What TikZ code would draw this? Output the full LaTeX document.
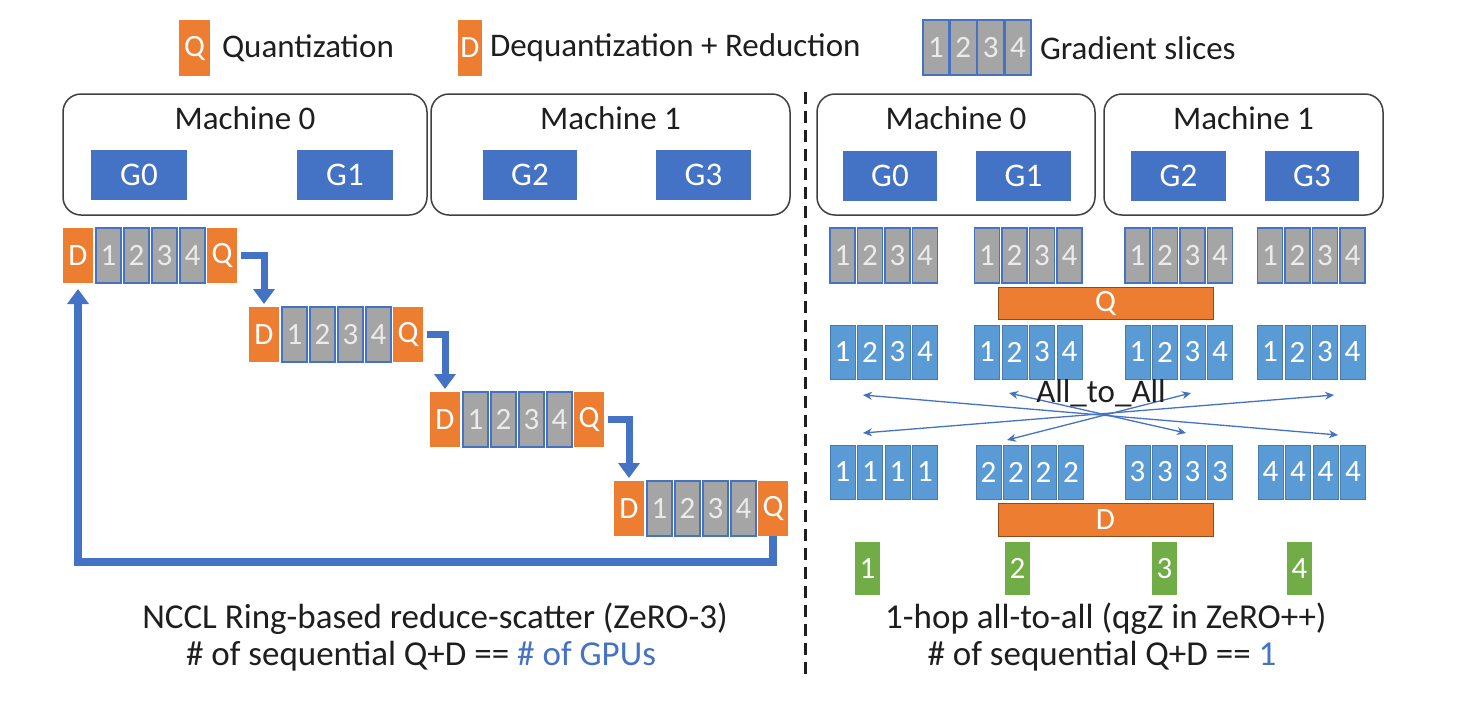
\documentclass[tikz,border=0pt]{standalone}
\usepackage{fontspec}
\setmainfont{Carlito}
\usetikzlibrary{arrows.meta}
\definecolor{qorange}{HTML}{ED7D31}
\definecolor{sgray}{HTML}{A5A5A5}
\definecolor{gblue}{HTML}{4472C4}
\definecolor{sblue}{HTML}{5B9BD5}
\definecolor{ggreen}{HTML}{70AD47}
\definecolor{txt}{HTML}{1E1E1E}
\newcommand\myfs[1]{\fontsize{#1}{#1}\selectfont}
\tikzset{
  box/.style={inner sep=0pt, outer sep=0pt, anchor=north west, text=white, font=\myfs{31}},
  orbox/.style={box, fill=qorange, minimum width=30pt, minimum height=55pt},
  grslice/.style={box, fill=sgray, draw=gblue, line width=1.2pt, minimum width=25pt, minimum height=55pt, text=white!92!black},
  blslice/.style={box, fill=sblue, draw=sblue!80!black, line width=0.8pt, minimum width=25pt, minimum height=54pt},
  grnslice/.style={box, fill=ggreen, minimum width=25pt, minimum height=53pt},
  gbox/.style={box, fill=gblue, font=\myfs{33}, minimum height=50pt},
  bar/.style={box, fill=qorange, draw=qorange!60!black, line width=0.8pt, minimum width=215pt, minimum height=32pt},
  lbl/.style={inner sep=0pt, outer sep=0pt, text=txt, font=\myfs{33}},
  captxt/.style={lbl, font=\myfs{35}},
  mbox/.style={draw=txt!85, line width=1.5pt, rounded corners=18pt, inner sep=0pt, outer sep=0pt, anchor=north west, minimum height=121pt},
  flow/.style={draw=gblue, line width=7pt, -{Triangle[width=21pt,length=15pt]}},
  xarrow/.style={draw=gblue, line width=1.3pt, {Stealth[length=9pt,width=8pt]}-{Stealth[length=9pt,width=8pt]}}
}
\newcommand\ringrow[3]{%
  \node[orbox] (#1D) at (#2,#3) {D};
  \foreach \k/\dx in {1/33,2/61,3/89,4/117}{\node[grslice] (#1s\k) at (#2+\dx,#3) {\k};}
  \node[orbox] (#1Q) at (#2+144,#3) {Q};
}
\newcommand\sgroup[5]{%
  \foreach \k in {1,...,4}{\node[#1] (#2s\k) at ({#3+27.5*(\k-1)},#4) {#5};}
}
\begin{document}
\begin{tikzpicture}[x=1pt,y=-1pt]
\useasboundingbox[fill=white] (0,0) rectangle (1482,710);

% legend
\node[orbox, minimum width=31pt, minimum height=56pt] (lq) at (179,20) {Q};
\node[lbl, anchor=west] (lqt) at (222,48) {Quantization};
\node[orbox, minimum width=24pt, minimum height=56pt] (ld) at (458,20) {D};
\node[lbl, anchor=west] (ldt) at (490,48) {Dequantization + Reduction};
\foreach \k in {1,...,4}{\node[grslice, minimum width=26pt] (lg\k) at ({923+27.3*(\k-1)},20) {\k};}
\node[lbl, anchor=west] (lgt) at (1040,48) {Gradient slices};

% machines left
\node[mbox, minimum width=364pt] (lm0) at (63,94) {};
\node[lbl] (lm0t) at ([yshift=-24pt]lm0.north) {Machine 0};
\node[mbox, minimum width=359pt] (lm1) at (431,94) {};
\node[lbl] (lm1t) at ([yshift=-24pt]lm1.north) {Machine 1};
\node[gbox, minimum width=96pt] (lg0) at (91,150) {G0};
\node[gbox, minimum width=96pt] (lg1) at (297,150) {G1};
\node[gbox, minimum width=94pt] (lg2) at (483,150) {G2};
\node[gbox, minimum width=95pt] (lg3) at (656,150) {G3};

% machines right
\node[mbox, minimum width=278pt] (rm0) at (817,94) {};
\node[lbl] (rm0t) at ([yshift=-24pt]rm0.north) {Machine 0};
\node[mbox, minimum width=279pt] (rm1) at (1104,94) {};
\node[lbl] (rm1t) at ([yshift=-24pt]rm1.north) {Machine 1};
\node[gbox, minimum width=94pt] (rg0) at (843,151) {G0};
\node[gbox, minimum width=95pt] (rg1) at (976,151) {G1};
\node[gbox, minimum width=95pt] (rg2) at (1131,151) {G2};
\node[gbox, minimum width=94pt] (rg3) at (1265,151) {G3};

% separator
\draw[txt, line width=3pt, dash pattern=on 12pt off 7pt] (805,92) -- (805,680);

% ring rows
\ringrow{r1}{63}{228}
\ringrow{r2}{249}{307}
\ringrow{r3}{430}{392}
\ringrow{r4}{614}{481}
\draw[flow, shorten <=4pt, shorten >=3pt] (r1Q.east) -| (r2D.north);
\draw[flow, shorten <=4pt, shorten >=3pt] (r2Q.east) -| (r3D.north);
\draw[flow, shorten <=4pt, shorten >=3pt] (r3Q.east) -| (r4D.north);
\coordinate (bot) at (0,562);
\draw[flow, line width=8pt, shorten >=6pt] (r4Q.south) -- (r4Q.south |- bot) -| (r1D.south);

% right side rows
\sgroup{grslice}{a1}{830}{228}{\k}
\sgroup{grslice}{a2}{974.5}{228}{\k}
\sgroup{grslice}{a3}{1125}{228}{\k}
\sgroup{grslice}{a4}{1257.5}{228}{\k}
\node[bar] (qbar) at (998,287) {Q};
\sgroup{blslice}{b1}{830}{325}{\k}
\sgroup{blslice}{b2}{974.5}{325}{\k}
\sgroup{blslice}{b3}{1125}{325}{\k}
\sgroup{blslice}{b4}{1257.5}{325}{\k}

\coordinate (u1) at (863,395);
\coordinate (u2) at (1009,393);
\coordinate (u3) at (1191,393);
\coordinate (u4) at (1334,395);
\coordinate (l1) at (863,433);
\coordinate (l2) at (1007,440);
\coordinate (l3) at (1186,433);
\coordinate (l4) at (1338,435);
\draw[xarrow] (u1) -- (l4);
\draw[xarrow] (u2) -- (l3);
\draw[xarrow] (u3) -- (l2);
\draw[xarrow] (u4) -- (l1);
\node[lbl] (a2a) at (1101,393) {All\_to\_All};

\sgroup{blslice}{c1}{830}{445}{1}
\sgroup{blslice}{c2}{976}{445}{2}
\sgroup{blslice}{c3}{1125}{445}{3}
\sgroup{blslice}{c4}{1258}{445}{4}
\node[bar, minimum height=33pt] (dbar) at (998,503) {D};

\node[grnslice] (g1) at (855,542) {1};
\node[grnslice] (g2) at (1005,542) {2};
\node[grnslice] (g3) at (1152,542) {3};
\node[grnslice] (g4) at (1287,542) {4};

% captions
\node[captxt] (capl1) at (435,619) {NCCL Ring-based reduce-scatter (ZeRO-3)};
\node[captxt] (capl2) at (421,656) {\# of sequential Q+D == \textcolor{gblue}{\# of GPUs}};
\node[captxt] (capr1) at (1106,619) {1-hop all-to-all (qgZ in ZeRO++)};
\node[captxt] (capr2) at (1102,656) {\# of sequential Q+D == \textcolor{gblue}{1}};
\end{tikzpicture}
\end{document}
